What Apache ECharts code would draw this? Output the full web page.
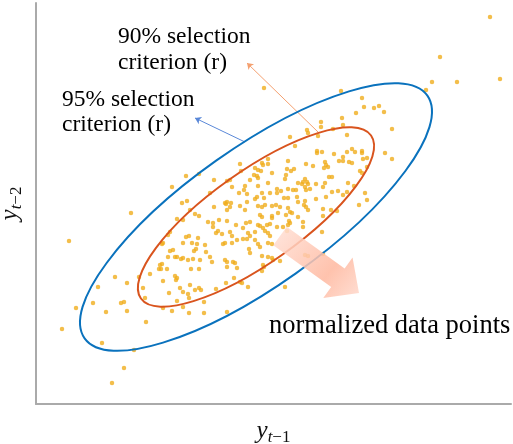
<!DOCTYPE html>
<html><head><meta charset="utf-8">
<script src="https://cdn.jsdelivr.net/npm/echarts@6/dist/echarts.min.js"></script>
<style>html,body{margin:0;padding:0;background:#fff}#c{width:513px;height:444px}</style>
</head><body><div id="c"></div>
<script>
// normalized data points (arbitrary units, x = y_{t-1}, y = y_{t-2})
const pointsUpperLeft = [[136,217],[150,228],[163,230],[204,240],[205,233],[178,224],[191,223],[194,224],[196,217],[209,218],[208,214],[203,211],[211,210],[174,211],[146,201],[151,203],[189,201],[191,202],[190,200],[195,201],[194,197],[211,202],[204,198],[178,197],[214,224],[218,229]];
const pointsUpperRight = [[454,387],[404,347],[396,322],[421,322],[464,325],[390,314],[228,316],[305,313],[326,306],[328,297],[338,296],[343,298],[348,292],[320,291],[306,286],[307,279],[285,282],[285,277],[271,274],[272,271],[282,268],[297,275],[311,269],[254,267],[259,258],[356,275],[281,253],[281,251],[286,252],[298,250],[311,252],[316,255],[319,252],[326,253],[326,251],[307,247],[303,243],[307,243],[313,242],[316,241],[327,245],[331,246],[349,251],[356,245],[232,245],[226,241],[252,243],[270,240],[277,238],[289,242],[290,239],[292,237],[288,236],[232,240],[225,233],[236,231],[251,235],[255,233],[258,235],[250,229],[249,225],[262,221],[269,225],[267,222],[271,222],[266,220],[272,220],[269,217],[270,214],[274,215],[280,220],[289,221],[296,227],[293,227],[324,233],[326,231],[331,237],[312,221],[318,218],[311,212],[302,213],[296,212],[287,217],[290,207],[280,205],[307,209],[269,203],[268,199],[270,197],[262,202],[257,214],[260,214],[252,215],[245,213],[241,211],[234,211],[232,221],[241,215],[240,199],[248,206],[252,206],[252,196],[244,197],[236,198],[229,199],[226,197],[222,198],[219,205],[221,207],[228,206],[221,228],[227,239],[219,236],[329,211],[331,204],[323,199],[222,226],[222,234],[222,218],[226,211],[261,207],[272,194],[287,195],[295,194],[301,193]];
const pointsLowerLeft = [[95,191],[141,185],[147,184],[154,194],[159,190],[163,188],[172,182],[177,181],[183,184],[191,183],[200,179],[210,181],[214,182],[209,194],[191,194],[177,177],[182,173],[180,171],[186,170],[194,172],[207,176],[212,171],[214,168],[196,168],[201,164],[196,161],[189,161],[187,160],[207,165],[211,165],[213,155],[214,151],[134,172],[132,169],[127,161],[126,160],[150,167],[153,168],[147,161],[156,161],[162,166],[161,160],[160,155],[158,153],[169,159],[170,152],[174,147],[176,142],[164,144],[157,145],[152,144],[147,146],[145,145],[139,147],[141,147],[134,153],[137,154],[132,147],[124,139],[126,140],[123,135],[125,135],[131,135],[155,135],[163,135],[114,130],[103,127],[127,123],[139,128],[141,126],[140,124],[154,119],[144,116],[133,111],[147,112],[159,114],[163,116],[165,114],[153,106],[141,103],[147,97],[127,96],[109,106],[107,116],[168,102],[180,115],[189,144],[191,142],[191,137],[197,142],[199,141],[201,136],[190,121],[204,122],[206,121],[212,117],[198,126],[33,163],[79,127],[91,121],[62,117],[26,75],[40,96],[57,101],[70,92],[85,101],[88,102],[91,93],[110,82],[66,61],[98,54],[88,36],[76,21],[136,93],[152,110],[153,91],[168,91],[191,92]];
const pointsLowerRight = [[224,189],[226,187],[236,188],[236,186],[242,191],[254,192],[256,191],[262,187],[267,182],[267,177],[253,183],[254,181],[252,179],[222,179],[224,178],[231,179],[234,180],[227,176],[229,173],[232,171],[234,168],[241,177],[219,172],[219,164],[222,160],[224,157],[232,161],[236,160],[226,148],[232,147],[236,146],[237,144],[244,143],[227,139],[228,137],[226,133],[286,172],[269,149],[272,148],[287,150],[249,117],[287,188],[250,189],[251,173],[247,177]];
// selection criterion ellipses: centre, tilt (deg), semi-axes
const ellipseCenter = [220, 187];
const ellipseAngleDeg = 35.3;
const outerAxes95 = [210, 69];
const innerAxes90 = [141, 46];
// annotation arrows (data units)
const arrow90 = [[282, 272], [211, 341]];
const arrow95 = [[209, 262], [159, 286]];
const bigArrowFrom = [244, 168];
const bigArrowTo = [323, 111];

const allPoints = pointsUpperLeft.concat(pointsUpperRight, pointsLowerLeft, pointsLowerRight);
const serif = "'Liberation Serif', 'DejaVu Serif', serif";
const richName = {
  i: {fontFamily: serif, fontStyle: 'italic', fontSize: 25, color: '#111', verticalAlign: 'bottom', padding: [0, 0, 2, 0]},
  t: {fontFamily: serif, fontStyle: 'italic', fontSize: 17, color: '#111', verticalAlign: 'bottom'},
  s: {fontFamily: serif, fontSize: 17, color: '#111', verticalAlign: 'bottom'}
};
const chart = echarts.init(document.getElementById('c'));
chart.setOption({
  animation: false,
  grid: {left: 36, right: 2, top: 3, bottom: 40, containLabel: false, outerBoundsMode: 'none'},
  xAxis: {type: 'value', min: 0, max: 475,
    axisLine: {show: true, onZero: false, lineStyle: {color: '#aaaaaa', width: 2}},
    axisTick: {show: false}, axisLabel: {show: false}, splitLine: {show: false},
    name: '{i|y}{t|t}{s|\u22121}', nameLocation: 'middle', nameGap: 15,
    nameTextStyle: {rich: richName}},
  yAxis: {type: 'value', min: 0, max: 401,
    axisLine: {show: true, onZero: false, lineStyle: {color: '#aaaaaa', width: 2}},
    axisTick: {show: false}, axisLabel: {show: false}, splitLine: {show: false},
    name: '{i|y}{t|t}{s|\u22122}', nameLocation: 'middle', nameGap: 11,
    nameTextStyle: {rich: richName}},
  series: [
    {type: 'scatter', data: allPoints, symbolSize: 4.5, itemStyle: {color: '#F0AE1E'}, z: 2},
    {type: 'lines', coordinateSystem: 'cartesian2d', symbol: ['none', 'arrow'], symbolSize: 6, z: 4,
      data: [
        {coords: arrow90, lineStyle: {color: '#f4a070', width: 1, opacity: 1}},
        {coords: arrow95, lineStyle: {color: '#5a88d8', width: 1, opacity: 1}}
      ]}
  ]
});

const toPx = p => chart.convertToPixel({gridIndex: 0}, p);
const c = toPx(ellipseCenter);
const k = toPx([ellipseCenter[0] + 1, ellipseCenter[1]])[0] - c[0];
const rot = ellipseAngleDeg * Math.PI / 180;
function ellipse(axes, color) {
  return {type: 'ellipse', x: c[0], y: c[1], rotation: rot, z: 5,
    shape: {cx: 0, cy: 0, rx: axes[0] * k, ry: axes[1] * k},
    style: {fill: 'none', stroke: color, lineWidth: 2}};
}
const a0 = toPx(bigArrowFrom), a1 = toPx(bigArrowTo);
const dx = a1[0] - a0[0], dy = a1[1] - a0[1], L = Math.hypot(dx, dy);
const ux = dx / L, uy = dy / L, nx = -uy, ny = ux;
const sw = 11.5, hw = 25, hl = 26;
const bx = a1[0] - ux * hl, by = a1[1] - uy * hl;
const arrowPts = [
  [a0[0] - nx * sw, a0[1] - ny * sw], [bx - nx * sw, by - ny * sw], [bx - nx * hw, by - ny * hw],
  [a1[0], a1[1]], [bx + nx * hw, by + ny * hw], [bx + nx * sw, by + ny * sw], [a0[0] + nx * sw, a0[1] + ny * sw]
];
function label(text, x, y, size) {
  return {type: 'text', x: x, y: y, z: 20,
    style: {text: text, fontFamily: serif, fontSize: size, fill: '#000', align: 'left', verticalAlign: 'middle'}};
}
chart.setOption({graphic: [
  ellipse(outerAxes95, '#0a72bd'),
  ellipse(innerAxes90, '#d9541e'),
  {type: 'polygon', z: 10, shape: {points: arrowPts},
    style: {opacity: 0.85, fill: new echarts.graphic.LinearGradient(0, 0, 1, 1, [
      {offset: 0, color: '#ffe2d8'}, {offset: 0.65, color: '#ffb89f'}, {offset: 1, color: '#ffd9cc'}])}},
  label('90% selection', 118, 37, 23.5),
  label('criterion (r)', 118, 63, 23.5),
  label('95% selection', 62, 100, 23.5),
  label('criterion (r)', 62, 125, 23.5),
  label('normalized data points', 269, 326, 26.5)
]});
</script></body></html>
